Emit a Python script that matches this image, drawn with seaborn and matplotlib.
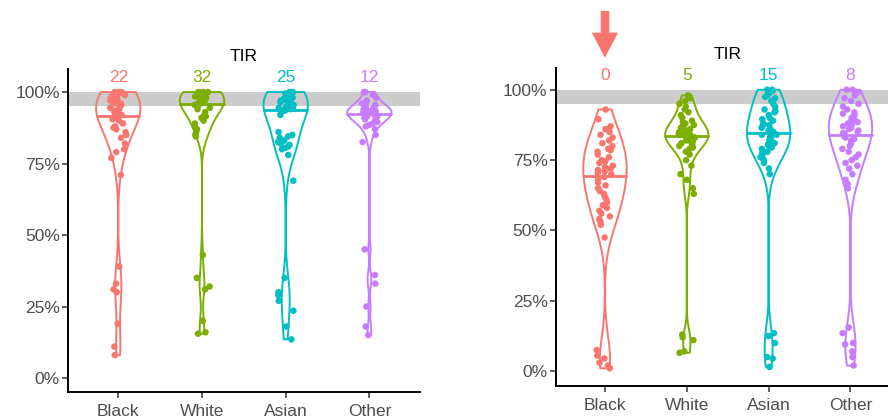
import numpy as np
import pandas as pd
import seaborn as sns
import matplotlib.pyplot as plt
from matplotlib.patches import FancyArrow
from matplotlib.ticker import FuncFormatter

races = ["Black", "White", "Asian", "Other"]
colors = ["#F8766D", "#7CAE00", "#00BFC4", "#C77CFF"]

# left panel, TIR in %
left_black = [100, 100, 100, 99.5, 99, 99, 98.5, 98, 98, 97.5, 97, 96.5, 96, 96, 95.5, 95, 94.5, 94, 93.5, 93, 92.5, 92,
              91, 90.5, 90, 89, 88, 87.5, 87, 86, 85, 84, 82, 80, 79, 77, 71,
              39, 33, 31, 30, 19, 11, 8]
left_white = [100, 100, 100, 100, 99.5, 99.5, 99, 99, 99, 98.5, 98.5, 98, 98, 98, 97.5, 97.5, 97, 97, 96.5, 96.5, 96, 96,
              95.5, 95, 94.5, 94, 93, 92, 91.5, 91, 90, 89, 88, 87, 86, 85, 84.5,
              43, 35, 32, 31, 20, 16, 15.5]
left_asian = [100, 100, 100, 99.5, 99, 99, 98.5, 98, 98, 97.5, 97, 97, 96.5, 96, 96, 95.5, 95, 95, 94.5, 94.5, 94.5, 94, 94,
              93.5, 93, 92, 86, 85, 84.5, 84, 83, 82.5, 82, 81.5, 81, 80.5, 80, 78, 69,
              35, 30, 29, 27, 23.5, 18, 13.5]
left_other = [100, 100, 99, 98, 97, 96, 95.5, 95, 94.5, 94, 94, 93.5, 93.5, 93.5, 93, 93, 93, 93, 93, 92.5,
              92, 92, 91.5, 91.5, 91, 90.5, 90, 89.5, 89, 88.5, 88, 87, 85, 82.5,
              45, 36, 33, 25, 18, 15]
left_counts = [22, 32, 25, 12]

# right panel, TIR in %
right_black = [93, 89.5, 87, 86, 85, 84, 83, 82, 81, 80, 79, 78.5, 78, 77, 76, 75, 74.5, 74, 73, 72.5, 72, 71.5, 71, 70.5, 70,
               69, 68, 67, 66, 65, 64, 63, 62, 61, 60, 59, 58, 57, 56, 55, 54, 53, 52, 47.5,
               7.5, 5.5, 4.5, 3, 2, 1]
right_white = [98, 97, 96, 95, 94, 93, 92, 91, 90, 89, 88.5, 88, 87.5, 87, 86.5, 86, 85.5, 85.5, 85, 85, 84.5, 84.5, 84, 84, 84,
               83, 83, 82.5, 82.5, 82, 82, 81.5, 81, 80.5, 80, 79.5, 79, 78, 77, 75, 73, 70, 68, 65, 63,
               13, 12, 11, 7, 6.5]
right_asian = [100, 100, 99.5, 99, 98.5, 98, 97.5, 97, 96, 95, 94, 93, 92.5, 92, 91, 90, 89.5, 89, 88, 87.5, 87, 86.5, 86, 85.5, 85, 85,
               84, 84, 83.5, 83, 82.5, 82, 81.5, 81, 80.5, 80, 79.5, 79, 78, 77.5, 77, 76, 75, 74, 72, 70,
               13.5, 12.5, 10, 5, 4.5, 1.5]
right_other = [100, 100, 99, 98, 97, 96, 95, 94, 93, 92, 91.5, 91, 90, 89.5, 89, 88.5, 88, 87.5, 87, 86.5, 86, 85.5, 85, 84.5, 84.5,
               83.5, 83, 82.5, 82, 81, 80, 79, 78, 77, 76, 75, 74, 73, 72, 70, 68, 66.5, 65,
               15.5, 13.5, 10, 9.5, 7, 5, 2]
right_counts = [0, 5, 15, 8]


def long_df(groups):
    rows = []
    for r, vals in zip(races, groups):
        rows += [(r, v) for v in vals]
    return pd.DataFrame(rows, columns=["race", "tir"])


def nrd0_factor(v):
    # R's default bandwidth, as a factor of the sd (what seaborn wants)
    v = np.asarray(v, float)
    sd = v.std(ddof=1)
    iqr = np.subtract(*np.percentile(v, [75, 25]))
    return 0.9 * min(sd, iqr / 1.34) * len(v) ** -0.2 / sd


def draw_panel(ax, df, counts, ylim):
    ax.axhspan(95, 100, color="#CCCCCC", lw=0, zorder=0)
    for r, c in zip(races, colors):
        sub = df[df.race == r]
        sns.violinplot(data=sub, x="race", y="tir", order=races, color=c, fill=False,
                       cut=0, density_norm="width", width=0.53, inner="quart",
                       bw_method=nrd0_factor(sub.tir), bw_adjust=1.3, linewidth=1.4, ax=ax)
        q = ax.lines[-3:]
        q[0].remove()
        q[2].remove()
        q[1].set_linestyle("-")
        q[1].set_color(c)
        q[1].set_linewidth(2)
    sns.stripplot(data=df, x="race", y="tir", hue="race", order=races, hue_order=races,
                  palette=colors, jitter=0.1, size=4.7, legend=False, ax=ax, zorder=3)
    for i, n in enumerate(counts):
        ax.text(i, 105, str(n), color=colors[i], ha="center", va="center", fontsize=12.5)
    ax.set_xlim(-0.6, 3.6)
    ax.set_ylim(*ylim)
    ax.set_yticks([0, 25, 50, 75, 100])
    ax.yaxis.set_major_formatter(FuncFormatter(lambda v, p: f"{v:.0f}%"))
    ax.set_xlabel("")
    ax.set_ylabel("")
    ax.set_title("TIR", fontsize=12.5, color="black", pad=6)
    for s in ["top", "right"]:
        ax.spines[s].set_visible(False)
    for s in ["left", "bottom"]:
        ax.spines[s].set_linewidth(1.4)
        ax.spines[s].set_color("black")
    ax.tick_params(length=4, width=1.1, color="#333333", labelcolor="#4D4D4D",
                   labelsize=12.5, pad=2)
    ax.tick_params(axis="x", pad=4.5)


sns.set_style("ticks")
plt.rcParams["font.family"] = ["Liberation Sans", "DejaVu Sans"]
np.random.seed(3)

fig = plt.figure(figsize=(8.88, 4.16), dpi=100)
ax1 = fig.add_axes([0.0766, 0.0577, 0.396, 0.776])
ax2 = fig.add_axes([0.626, 0.072, 0.387, 0.765])

draw_panel(ax1, long_df([left_black, left_white, left_asian, left_other]), left_counts, (-4.9, 108))
draw_panel(ax2, long_df([right_black, right_white, right_asian, right_other]), right_counts, (-5.3, 107.8))

# arrow over Black in the right panel
ax2.add_patch(FancyArrow(0, 128, 0, -16.6, width=0.104, head_width=0.32, head_length=8.9,
                         length_includes_head=True, color="#F8766D", lw=0, clip_on=False))

fig.savefig("out.png", dpi=100)
